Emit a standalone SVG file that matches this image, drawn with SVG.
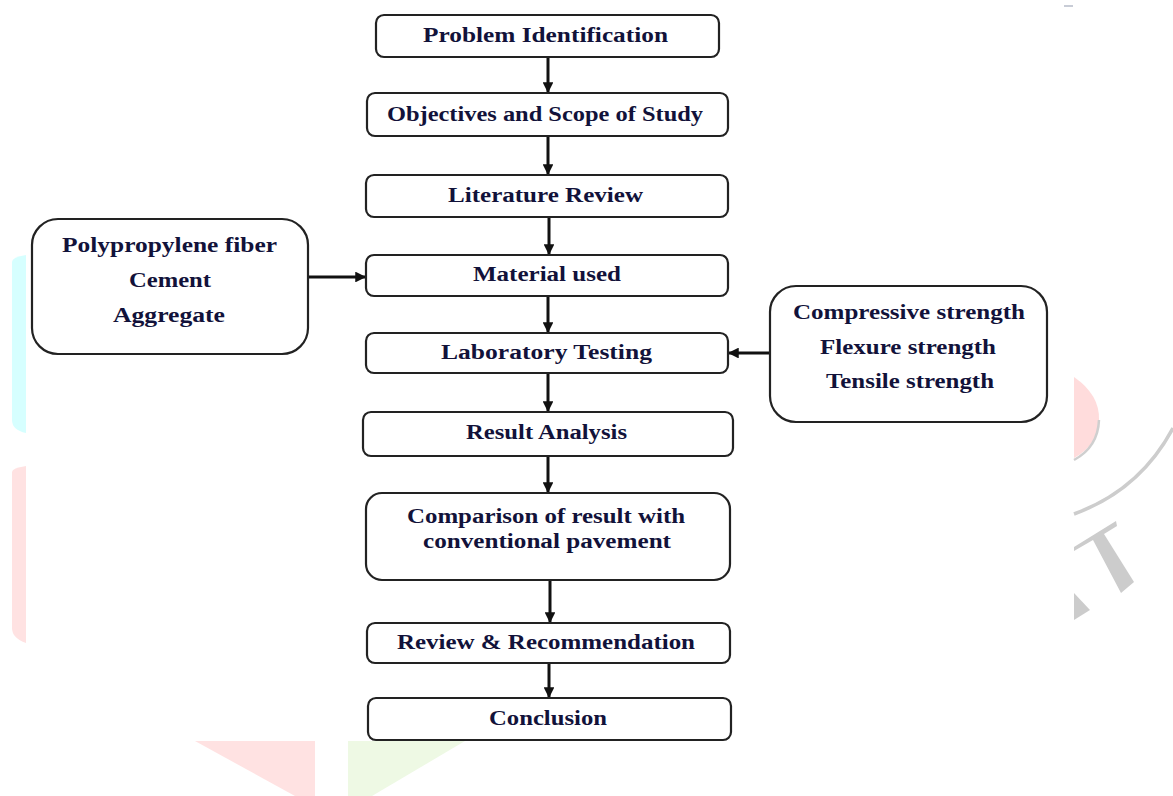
<svg xmlns="http://www.w3.org/2000/svg" width="1173" height="796" viewBox="0 0 1173 796">
<defs>
<style>
.box{fill:#fff;stroke:#222;stroke-width:2.2}
.t{font-family:"Liberation Serif","Times New Roman",serif;font-weight:bold;font-size:20px;fill:#12123a;text-anchor:middle}
.c{stroke:#111;stroke-width:3;fill:none}
</style>
<marker id="ah" viewBox="0 0 10 10" refX="9" refY="5" markerWidth="3.6" markerHeight="3.6" orient="auto" markerUnits="strokeWidth">
<path d="M0,0 L10,5 L0,10 Z" fill="#111"/>
</marker>
</defs>
<rect width="1173" height="796" fill="#fff"/>
<g id="watermark">
<path fill="#d6ffff" d="M12,262 Q12,257 26,255 L26,433 Q12,430 12,420 Z"/>
<path fill="#ffe2e2" d="M12,472 Q12,468 26,466 L26,643 Q12,638 12,628 Z"/>
<polygon fill="#ffe2e2" points="195,741 315,741 315,796 295,796"/>
<polygon fill="#eef9e4" points="348,741 465,741 372,796 348,796"/>
<path fill="#ffdcdc" d="M1074,377 Q1100,395 1099,420 Q1098,445 1074,458 Z"/>
<path fill="none" stroke="#cfcfcf" stroke-width="2.5" d="M1099,420 Q1098,447 1074,460"/>
<path fill="none" stroke="#cdcdcd" stroke-width="3.5" d="M1074,514 Q1140,490 1173,428"/>
<polygon fill="#cccccc" points="1074,547 1116,521 1117,526 1104,534 1134,582 1121,593 1093,540 1074,551"/>
<polygon fill="#cccccc" points="1074,593 1090,610 1074,620"/>
<rect fill="#c8ccd6" x="1064" y="5" width="9" height="2"/>
</g>
<g id="connectors">
<line class="c" x1="548" y1="57" x2="548" y2="92" marker-end="url(#ah)"/>
<line class="c" x1="548" y1="136" x2="548" y2="174" marker-end="url(#ah)"/>
<line class="c" x1="549" y1="217" x2="549" y2="254" marker-end="url(#ah)"/>
<line class="c" x1="548" y1="296" x2="548" y2="332" marker-end="url(#ah)"/>
<line class="c" x1="548" y1="373" x2="548" y2="411" marker-end="url(#ah)"/>
<line class="c" x1="548" y1="456" x2="548" y2="492" marker-end="url(#ah)"/>
<line class="c" x1="550" y1="580" x2="550" y2="622" marker-end="url(#ah)"/>
<line class="c" x1="549" y1="663" x2="549" y2="697" marker-end="url(#ah)"/>
<line class="c" x1="308" y1="277" x2="365" y2="277" marker-end="url(#ah)"/>
<line class="c" x1="770" y1="353" x2="729" y2="353" marker-end="url(#ah)"/>
</g>
<g id="n1"><rect class="box" x="376" y="15" width="343" height="42" rx="8"/><text class="t" x="545.5" y="42" textLength="245" lengthAdjust="spacingAndGlyphs">Problem Identification</text></g>
<g id="n2"><rect class="box" x="367" y="93" width="361" height="43" rx="8"/><text class="t" x="545" y="121" textLength="316" lengthAdjust="spacingAndGlyphs">Objectives and Scope of Study</text></g>
<g id="n3"><rect class="box" x="366" y="175" width="362" height="42" rx="8"/><text class="t" x="545.5" y="202" textLength="195" lengthAdjust="spacingAndGlyphs">Literature Review</text></g>
<g id="n4"><rect class="box" x="366" y="255" width="362" height="41" rx="8"/><text class="t" x="547" y="281" textLength="148" lengthAdjust="spacingAndGlyphs">Material used</text></g>
<g id="n5"><rect class="box" x="366" y="333" width="362" height="40" rx="8"/><text class="t" x="546.5" y="359" textLength="211" lengthAdjust="spacingAndGlyphs">Laboratory Testing</text></g>
<g id="n6"><rect class="box" x="363" y="412" width="370" height="44" rx="8"/><text class="t" x="546.5" y="439" textLength="161" lengthAdjust="spacingAndGlyphs">Result Analysis</text></g>
<g id="n7"><rect class="box" x="366" y="493" width="364" height="87" rx="16"/><text class="t" x="546" y="523" textLength="278" lengthAdjust="spacingAndGlyphs">Comparison of result with</text><text class="t" x="547" y="548" textLength="248" lengthAdjust="spacingAndGlyphs">conventional pavement</text></g>
<g id="n8"><rect class="box" x="367" y="623" width="363" height="40" rx="8"/><text class="t" x="546" y="649" textLength="298" lengthAdjust="spacingAndGlyphs">Review &amp; Recommendation</text></g>
<g id="n9"><rect class="box" x="368" y="698" width="363" height="42" rx="8"/><text class="t" x="548" y="725" textLength="118" lengthAdjust="spacingAndGlyphs">Conclusion</text></g>
<g id="materials"><rect class="box" x="32" y="219" width="276" height="135" rx="26"/><text class="t" x="169.5" y="252" textLength="215" lengthAdjust="spacingAndGlyphs">Polypropylene fiber</text><text class="t" x="170" y="287" textLength="82" lengthAdjust="spacingAndGlyphs">Cement</text><text class="t" x="169" y="322" textLength="112" lengthAdjust="spacingAndGlyphs">Aggregate</text></g>
<g id="tests"><rect class="box" x="770" y="286" width="277" height="136" rx="26"/><text class="t" x="909" y="319" textLength="232" lengthAdjust="spacingAndGlyphs">Compressive strength</text><text class="t" x="908" y="354" textLength="176" lengthAdjust="spacingAndGlyphs">Flexure strength</text><text class="t" x="910" y="388" textLength="168" lengthAdjust="spacingAndGlyphs">Tensile strength</text></g>
</svg>
